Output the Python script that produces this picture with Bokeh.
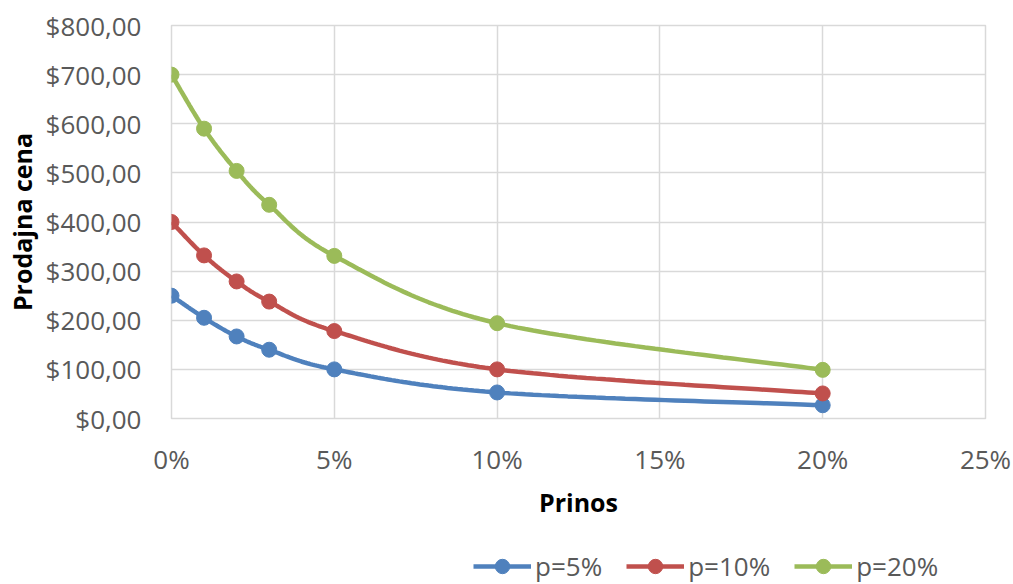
import numpy as np
from bokeh.plotting import figure
from bokeh.layouts import column
from bokeh.models import (FixedTicker, CustomJSTickFormatter, Legend, LegendItem, Range1d)
from bokeh.embed import file_html
from bokeh.resources import INLINE

# ---- data ----
prinos = [0, 1, 2, 3, 5, 10, 20]          # x values, percent
p5 = [250, 205, 167, 140, 100, 53, 27]
p10 = [400, 332, 279, 238, 178, 100, 51]
p20 = [700, 590, 504, 435, 331, 194, 99]
series = [p5, p10, p20]
series_names = ["p=5%", "p=10%", "p=20%"]
colors = ["#4F81BD", "#C0504D", "#9BBB59"]
x_ticks = [0, 5, 10, 15, 20, 25]
y_ticks = [0, 100, 200, 300, 400, 500, 600, 700, 800]
x_title = "Prinos"
y_title = "Prodajna cena"


def smooth(xs, ys, n=40):
    """Catmull-Rom spline through the points (like Excel's smoothed line)."""
    pts = np.column_stack([xs, ys]).astype(float)
    P = np.vstack([pts[0], pts, pts[-1]])
    out = []
    for i in range(1, len(P) - 2):
        p0, p1, p2, p3 = P[i - 1], P[i], P[i + 1], P[i + 2]
        t = np.linspace(0, 1, n, endpoint=(i == len(P) - 3))[:, None]
        c = 0.5 * (2 * p1 + (-p0 + p2) * t + (2 * p0 - 5 * p1 + 4 * p2 - p3) * t ** 2
                   + (-p0 + 3 * p1 - 3 * p2 + p3) * t ** 3)
        out.append(c)
    c = np.vstack(out)
    return c[:, 0], c[:, 1]


FONT = "Open Sans"
GRID = "#d9d9d9"
TXT = "#595959"

# ---- main chart ----
p = figure(width=1013, height=548, output_backend="svg", toolbar_location=None,
           x_range=Range1d(0, 25), y_range=Range1d(0, 800),
           min_border_left=171, min_border_right=28, min_border_top=25,
           min_border_bottom=130)
p.outline_line_color = GRID
p.outline_line_width = 1.5
p.background_fill_color = "white"
p.border_fill_color = "white"

p.xaxis.ticker = FixedTicker(ticks=x_ticks)
p.yaxis.ticker = FixedTicker(ticks=y_ticks)
p.xaxis.formatter = CustomJSTickFormatter(code="return tick.toFixed(0) + '%';")
p.yaxis.formatter = CustomJSTickFormatter(code="return '$' + tick.toFixed(2).replace('.', ',');")

for ax in (p.xaxis[0], p.yaxis[0]):
    ax.axis_line_color = None
    ax.major_tick_line_color = None
    ax.minor_tick_line_color = None
    ax.major_label_text_font = FONT
    ax.major_label_text_font_size = "26px"
    ax.major_label_text_color = TXT
    ax.axis_label_text_font = FONT
    ax.axis_label_text_font_style = "bold"
    ax.axis_label_text_font_size = "25px"
    ax.axis_label_text_color = "#000000"

p.xaxis.axis_label = x_title
p.yaxis.axis_label = y_title
p.xaxis.major_label_standoff = 16
p.yaxis.major_label_standoff = 24
p.xaxis.axis_label_standoff = 5
p.yaxis.axis_label_standoff = 4

p.xgrid.grid_line_color = GRID
p.ygrid.grid_line_color = GRID
p.xgrid.grid_line_width = 1.5
p.ygrid.grid_line_width = 1.5

for vals, col in zip(series, colors):
    sx, sy = smooth(prinos, vals)
    p.line(sx, sy, line_color=col, line_width=4.5)
    p.scatter(prinos, vals, size=15, fill_color=col, line_color=col)

# ---- legend strip (same series, drawn out of view; only the legend shows) ----
leg = figure(width=1013, height=36, output_backend="svg", toolbar_location=None,
             x_range=Range1d(-200, -100), y_range=Range1d(0, 800),
             x_axis_type=None, y_axis_type=None,
             min_border_left=0, min_border_right=0, min_border_top=0,
             min_border_bottom=0)
leg.outline_line_color = None
leg.xgrid.visible = False
leg.ygrid.visible = False
leg.background_fill_color = "white"
leg.border_fill_color = "white"

items = []
for vals, name, col in zip(series, series_names, colors):
    lr = leg.line(prinos, vals, line_color=col, line_width=4.5)
    sr = leg.scatter(prinos, vals, size=15, fill_color=col, line_color=col)
    items.append(LegendItem(label=name, renderers=[lr, sr]))

legend = Legend(items=items, orientation="horizontal", location=(302, 0),
                glyph_width=58, glyph_height=36, label_text_font=FONT,
                label_text_font_size="26px", label_text_color=TXT,
                border_line_color=None, background_fill_alpha=0,
                spacing=24, label_standoff=4, padding=0, margin=0)
leg.add_layout(legend, "center")

layout = column(p, leg, spacing=0)
open("out.html", "w").write(file_html(layout, INLINE))
